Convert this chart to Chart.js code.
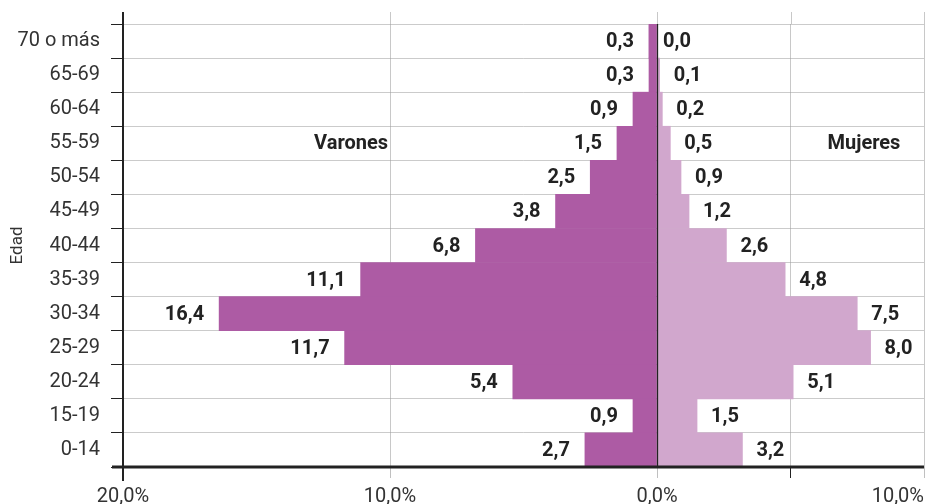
<!DOCTYPE html>
<html>
<head>
<meta charset="utf-8">
<script src="https://cdn.jsdelivr.net/npm/chart.js@4/dist/chart.umd.min.js"></script>
<style>
  html, body { margin: 0; padding: 0; background: #fff; }
  #wrap { width: 926px; height: 504px; position: relative; }
</style>
</head>
<body>
<div id="wrap"><canvas id="c"></canvas></div>
<script>
// ---- data ----
const ageGroups = ["70 o más", "65-69", "60-64", "55-59", "50-54", "45-49", "40-44", "35-39", "30-34", "25-29", "20-24", "15-19", "0-14"];
const varones = [0.3, 0.3, 0.9, 1.5, 2.5, 3.8, 6.8, 11.1, 16.4, 11.7, 5.4, 0.9, 2.7];
const mujeres = [0.0, 0.1, 0.2, 0.5, 0.9, 1.2, 2.6, 4.8, 7.5, 8.0, 5.1, 1.5, 3.2];
const xTickValues = [-20, -10, 0, 5, 10];
const xTickLabels = ["20,0%", "10,0%", "0,0%", "", "10,0%"];
const seriesNames = ["Varones", "Mujeres"];

const FONT = "Roboto, 'Liberation Sans', sans-serif";
const fmt = v => Math.abs(v).toFixed(1).replace('.', ',');

const pyramidPlugin = {
  id: 'pyramid',
  afterDatasetsDraw(chart) {
    const ctx = chart.ctx;
    ctx.save();
    ctx.font = "bold 20px " + FONT;
    ctx.fillStyle = '#222';
    ctx.textBaseline = 'middle';
    chart.data.datasets.forEach((ds, di) => {
      const meta = chart.getDatasetMeta(di);
      meta.data.forEach((el, i) => {
        const v = ds.data[i];
        if (di === 0) {
          ctx.textAlign = 'right';
          ctx.fillText(fmt(v), el.x - 15, el.y + 1);
        } else {
          ctx.textAlign = 'left';
          ctx.fillText(fmt(v), el.x + 14, el.y + 1);
        }
      });
    });
    ctx.restore();
  },
  afterDraw(chart) {
    const ctx = chart.ctx;
    const xs = chart.scales.x, ys = chart.scales.y;
    const ca = chart.chartArea;
    ctx.save();
    // grid extensions above the plot
    ctx.strokeStyle = '#c8c8c8';
    ctx.lineWidth = 1;
    [-10, 0, 5, 10].forEach(v => {
      const px = Math.round(xs.getPixelForValue(v)) + 0.5;
      ctx.beginPath(); ctx.moveTo(px, ca.top - 12); ctx.lineTo(px, ca.top); ctx.stroke();
    });
    // zero line
    const zx = Math.round(xs.getPixelForValue(0)) + 0.5;
    ctx.strokeStyle = '#222';
    ctx.lineWidth = 1.3;
    ctx.beginPath(); ctx.moveTo(zx, ca.top); ctx.lineTo(zx, ca.bottom); ctx.stroke();
    // left axis
    const lx = xs.getPixelForValue(-20);
    ctx.lineWidth = 2;
    ctx.beginPath(); ctx.moveTo(lx, ca.top - 12); ctx.lineTo(lx, ca.bottom + 14); ctx.stroke();
    // bottom axis
    ctx.lineWidth = 3;
    ctx.beginPath(); ctx.moveTo(lx - 11, ca.bottom); ctx.lineTo(xs.getPixelForValue(10), ca.bottom); ctx.stroke();
    // x tick labels
    ctx.font = "20px " + FONT;
    ctx.fillStyle = '#333';
    ctx.textBaseline = 'middle';
    xTickValues.forEach((v, i) => {
      const t = xTickLabels[i];
      if (!t) return;
      const px = xs.getPixelForValue(v);
      ctx.textAlign = (i === xTickValues.length - 1) ? 'right' : 'center';
      ctx.fillText(t, px, ca.bottom + 30);
    });
    // series annotations
    ctx.font = "bold 20px " + FONT;
    ctx.fillStyle = '#222';
    const ay = ys.getPixelForValue(3) + 1;
    ctx.textAlign = 'right';
    ctx.fillText(seriesNames[0], xs.getPixelForValue(-10) - 2, ay);
    ctx.textAlign = 'center';
    ctx.fillText(seriesNames[1], xs.getPixelForValue(7.75), ay);
    ctx.restore();
  }
};

new Chart(document.getElementById('c'), {
  type: 'bar',
  data: {
    labels: ageGroups,
    datasets: [
      { label: seriesNames[0], data: varones.map(v => -v), backgroundColor: '#ad5ba4',
        barPercentage: 1, categoryPercentage: 1, borderWidth: 0 },
      { label: seriesNames[1], data: mujeres, backgroundColor: '#d1a7cd',
        barPercentage: 1, categoryPercentage: 1, borderWidth: 0 }
    ]
  },
  options: {
    indexAxis: 'y',
    responsive: true,
    maintainAspectRatio: false,
    animation: false,
    layout: { padding: { top: 24, right: 2, left: 0, bottom: 0 } },
    plugins: { legend: { display: false }, tooltip: { enabled: false } },
    scales: {
      x: {
        type: 'linear',
        stacked: true,
        min: -20, max: 10,
        afterBuildTicks: s => { s.ticks = xTickValues.map(v => ({ value: v })); },
        afterFit: s => { s.height = 37; },
        ticks: { display: false },
        border: { display: false },
        grid: {
          drawTicks: true,
          tickLength: 11,
          lineWidth: 1,
          color: c => (c.tick && (c.tick.value === -20 || c.tick.value === 0)) ? 'rgba(0,0,0,0)' : '#c8c8c8',
          tickColor: c => {
            if (!c.tick) return 'rgba(0,0,0,0)';
            if (c.tick.value === 5) return '#222';
            if (c.tick.value === -20) return 'rgba(0,0,0,0)';
            return '#c0c0c0';
          }
        }
      },
      y: {
        type: 'category',
        stacked: true,
        z: 1,
        afterFit: s => { s.width = 123; },
        border: { display: false },
        grid: {
          offset: true,
          drawTicks: true,
          tickLength: 12,
          color: 'rgba(160,160,160,0.55)',
          tickColor: '#222',
          lineWidth: 1
        },
        ticks: {
          padding: 11,
          color: '#333',
          font: { family: FONT, size: 20 }
        },
        title: {
          display: true,
          text: 'Edad',
          color: '#333',
          font: { family: FONT, size: 17 },
          padding: { top: 8, bottom: 0 }
        }
      }
    }
  },
  plugins: [pyramidPlugin]
});
</script>
</body>
</html>
